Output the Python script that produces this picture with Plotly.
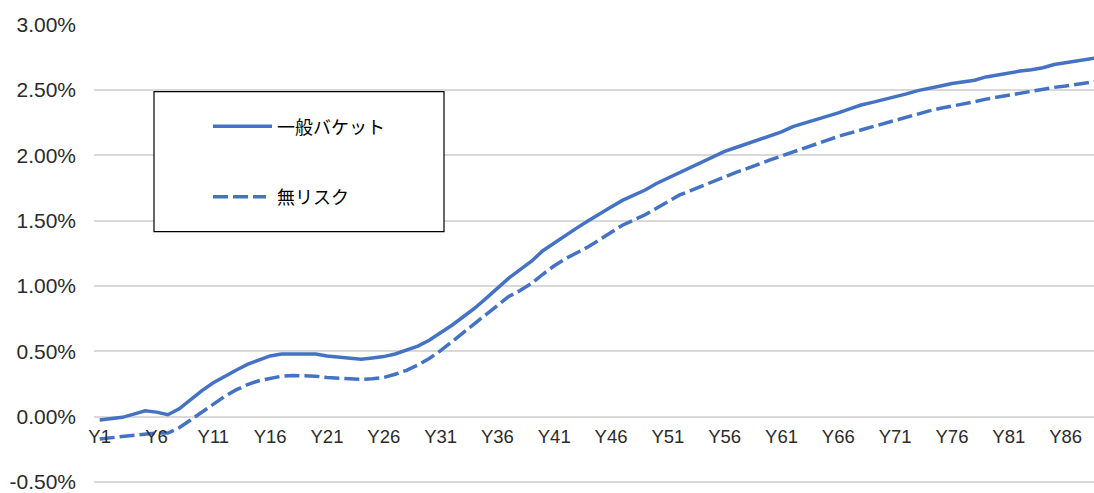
import plotly.graph_objects as go

categories = [f"Y{i}" for i in range(1, 90)]

general_bucket = [
    -0.025, -0.015, -0.005, 0.02, 0.045, 0.035, 0.015, 0.06, 0.13, 0.20,
    0.26, 0.31, 0.355, 0.40, 0.435, 0.465, 0.48, 0.48, 0.48, 0.48,
    0.465, 0.455, 0.445, 0.44, 0.45, 0.46, 0.48, 0.51, 0.54, 0.585,
    0.64, 0.70, 0.765, 0.83, 0.905, 0.985, 1.06, 1.125, 1.19, 1.27,
    1.33, 1.385, 1.445, 1.50, 1.555, 1.605, 1.655, 1.695, 1.735, 1.785,
    1.825, 1.87, 1.905, 1.945, 1.99, 2.03, 2.06, 2.09, 2.12, 2.15,
    2.18, 2.22, 2.245, 2.27, 2.30, 2.325, 2.355, 2.385, 2.405, 2.425,
    2.445, 2.47, 2.495, 2.51, 2.53, 2.55, 2.56, 2.575, 2.60, 2.615,
    2.635, 2.645, 2.655, 2.67, 2.695, 2.71, 2.725, 2.74, 2.75,
]

risk_free = [
    -0.17, -0.16, -0.15, -0.14, -0.13, -0.125, -0.125, -0.085, -0.025, 0.035,
    0.095, 0.155, 0.205, 0.245, 0.275, 0.295, 0.31, 0.315, 0.315, 0.31,
    0.30, 0.295, 0.29, 0.285, 0.29, 0.30, 0.325, 0.355, 0.395, 0.445,
    0.505, 0.575, 0.645, 0.715, 0.785, 0.855, 0.92, 0.965, 1.02, 1.09,
    1.155, 1.21, 1.255, 1.30, 1.355, 1.41, 1.465, 1.505, 1.545, 1.595,
    1.645, 1.695, 1.73, 1.765, 1.805, 1.84, 1.87, 1.90, 1.935, 1.965,
    1.995, 2.025, 2.055, 2.085, 2.12, 2.145, 2.17, 2.195, 2.22, 2.245,
    2.27, 2.295, 2.315, 2.34, 2.36, 2.375, 2.39, 2.41, 2.43, 2.445,
    2.46, 2.48, 2.49, 2.505, 2.52, 2.53, 2.545, 2.56, 2.57,
]

series_names = ["一般バケット", "無リスク"]
x_tick_labels = categories[::5]
y_tick_values = [-0.5, 0.0, 0.5, 1.0, 1.5, 2.0, 2.5, 3.0]
y_tick_labels = ["-0.50%", "0.00%", "0.50%", "1.00%", "1.50%", "2.00%", "2.50%", "3.00%"]

BLUE = "#4472C4"
DASH = "15px,5px"
Y_MIN, Y_MAX = -0.515, 3.005

fig = go.Figure()
fig.add_trace(go.Scatter(x=categories, y=general_bucket, name=series_names[0],
                         mode="lines", line=dict(color=BLUE, width=3.5),
                         showlegend=False))
fig.add_trace(go.Scatter(x=categories, y=risk_free, name=series_names[1],
                         mode="lines", line=dict(color=BLUE, width=3.5, dash=DASH),
                         showlegend=False))

# plot area geometry: left 94px, width 1000px, top 24px, bottom 487px
def px_x(px):
    return (px - 94) / 1000.0

def px_y(py):
    return (487 - py) / 463.0

shapes = [
    dict(type="rect", xref="paper", yref="paper",
         x0=px_x(154), x1=px_x(444), y0=px_y(233), y1=px_y(92),
         line=dict(color="black", width=1.2), fillcolor="white", layer="above"),
    dict(type="line", xref="paper", yref="paper",
         x0=px_x(213), x1=px_x(272), y0=px_y(127), y1=px_y(127),
         line=dict(color=BLUE, width=3.5), layer="above"),
    dict(type="line", xref="paper", yref="paper",
         x0=px_x(213), x1=px_x(266), y0=px_y(198), y1=px_y(198),
         line=dict(color=BLUE, width=3.5, dash=DASH), layer="above"),
]
annotations = [
    dict(xref="paper", yref="paper", x=px_x(275), y=px_y(127),
         xanchor="left", yanchor="middle", text=series_names[0], showarrow=False,
         font=dict(family="Noto Sans CJK JP", size=18, color="black")),
    dict(xref="paper", yref="paper", x=px_x(275), y=px_y(197),
         xanchor="left", yanchor="middle", text=series_names[1], showarrow=False,
         font=dict(family="Noto Sans CJK JP", size=18, color="black")),
]

fig.update_layout(
    width=1094, height=493,
    margin=dict(l=94, r=0, t=24, b=6),
    plot_bgcolor="white", paper_bgcolor="white",
    shapes=shapes, annotations=annotations,
    xaxis=dict(
        type="category", range=[-0.5, 87.5],
        tickmode="array", tickvals=x_tick_labels, ticktext=x_tick_labels,
        showgrid=False, showline=False, zeroline=False, ticks="",
        anchor="free", position=(0 - Y_MIN) / (Y_MAX - Y_MIN),
        ticklabelstandoff=7,
        tickfont=dict(family="Liberation Sans", size=18.5, color="#2b2b2b"),
    ),
    yaxis=dict(
        range=[Y_MIN, Y_MAX], tickmode="array", tickvals=y_tick_values,
        ticktext=y_tick_labels, ticklabeloverflow="allow",
        showgrid=True, gridcolor="#d9d9d9", gridwidth=1.5,
        zeroline=False, showline=False, ticks="",
        ticklabelstandoff=17,
        tickfont=dict(family="Liberation Sans", size=21, color="#2b2b2b"),
    ),
)

fig.write_html("out.html")
